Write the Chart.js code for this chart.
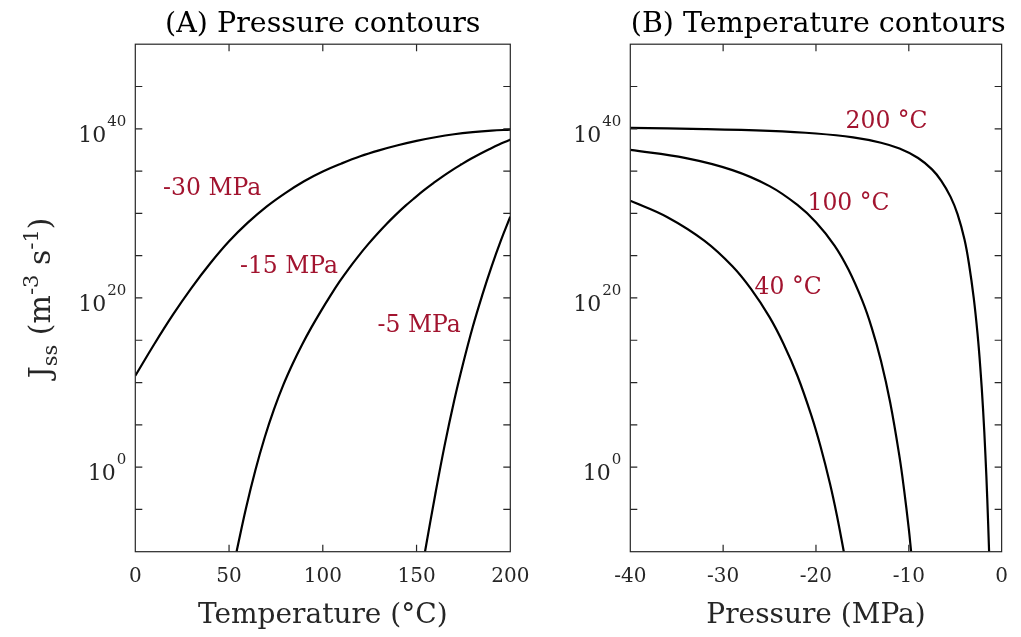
<!DOCTYPE html>
<html>
<head>
<meta charset="utf-8">
<script src="https://cdn.jsdelivr.net/npm/chart.js@4.4.0/dist/chart.umd.min.js"></script>
<style>
  body { margin: 0; background: #fff; width: 1021px; height: 637px; overflow: hidden; position: relative; }
  canvas { position: absolute; top: 0; }
  #panel-a { left: 0; }
  #panel-b { left: 560px; }
</style>
</head>
<body>
<canvas id="panel-a" width="560" height="637"></canvas>
<canvas id="panel-b" width="461" height="637"></canvas>
<script>
// ---- data (y values are log10 of Jss) ----
// (A) pressure contours, x = temperature in C
const tempM30 = [0, 10, 20, 30, 40, 50, 60, 70, 80, 90, 100, 110, 120, 130, 140, 150, 160, 170, 180, 190, 200];
const logJM30 = [10.8, 14.5, 18.0, 21.2, 24.1, 26.7, 28.9, 30.8, 32.4, 33.8, 34.95, 35.9, 36.75, 37.45, 38.05, 38.57, 39.0, 39.35, 39.6, 39.78, 39.9];

const tempM15 = [54, 59, 64, 69, 74, 79, 84, 89, 94, 99, 104, 109, 114, 119, 124, 129, 134, 139, 144, 149, 154, 159, 164, 169, 174, 179, 184, 189, 194, 199, 200];
const logJM15 = [-10, -4.9, -0.4, 3.5, 6.85, 9.75, 12.25, 14.5, 16.55, 18.45, 20.25, 21.95, 23.5, 24.95, 26.3, 27.56, 28.75, 29.85, 30.88, 31.83, 32.74, 33.58, 34.38, 35.12, 35.8, 36.45, 37.05, 37.61, 38.14, 38.62, 38.72];

const tempM5 = [154.5, 160, 165, 170, 175, 180, 185, 190, 195, 200];
const logJM5 = [-10, -3.2, 2.6, 7.8, 12.4, 16.6, 20.3, 23.7, 26.8, 29.6];

// (B) temperature contours, x = pressure in MPa
const presT200 = [-40, -32, -25, -20, -16, -13, -11, -9, -7.5, -6.5, -5.5, -4.75, -4, -3.5, -3, -2.6, -2.3, -2, -1.75, -1.55, -1.35];
const logJT200 = [40.1, 39.97, 39.75, 39.44, 38.98, 38.35, 37.66, 36.55, 35.2, 33.85, 31.95, 29.9, 26.9, 23.9, 19.95, 15.8, 11.8, 6.8, 1.5, -3.7, -10];

const presT100 = [-40, -34, -29, -25, -22, -20, -18, -16.5, -15, -14, -13, -12, -11, -10.5, -10, -9.75];
const logJT100 = [37.5, 36.53, 35.11, 33.22, 31.0, 28.95, 26.2, 23.36, 19.65, 16.5, 12.58, 7.61, 1.21, -2.75, -7.3, -10];

const presT40 = [-40, -36, -32, -29, -27, -25, -23.5, -22, -20.5, -19.5, -18.5, -17.75, -17];
const logJT40 = [31.5, 29.55, 26.75, 23.75, 21.07, 17.73, 14.59, 10.8, 6.11, 2.4, -1.92, -5.7, -10];

// axis ticks
const yMinorExp = [-5, 0, 5, 10, 15, 20, 25, 30, 35, 40, 45];
const yLabelExp = [0, 20, 40];
const xTicksA = [50, 100, 150];
const xTicksB = [-30, -20, -10];

// in-plot labels (x in axis units, y as log10)
const labelsA = [
  { text: '-30 MPa', x: 41, exp: 32.2 },
  { text: '-15 MPa', x: 82, exp: 22.9 },
  { text: '-5 MPa', x: 151.4, exp: 16.0 }
];
const labelsB = [
  { text: '200 °C', x: -12.4, exp: 40.1 },
  { text: '100 °C', x: -16.5, exp: 30.4 },
  { text: '40 °C', x: -23.0, exp: 20.5 }
];

const FONT = 'DejaVu Serif';
const AXIS_COLOR = '#262626';
const LABEL_COLOR = '#A2142F';
const TICK = 7;

// box, inward ticks, 10^n labels, curve labels, y title
const frameAndLabels = {
  id: 'frameAndLabels',
  afterDatasetsDraw(chart, args, opts) {
    const { ctx, chartArea: { left, right, top, bottom }, scales: { x, y } } = chart;
    ctx.save();
    ctx.strokeStyle = AXIS_COLOR;
    ctx.lineWidth = 1.2;
    ctx.beginPath();
    yMinorExp.forEach(e => {
      const py = y.getPixelForValue(Math.pow(10, e));
      ctx.moveTo(left, py); ctx.lineTo(left + TICK, py);
      ctx.moveTo(right, py); ctx.lineTo(right - TICK, py);
    });
    opts.xTicks.forEach(v => {
      const px = x.getPixelForValue(v);
      ctx.moveTo(px, bottom); ctx.lineTo(px, bottom - TICK);
      ctx.moveTo(px, top); ctx.lineTo(px, top + TICK);
    });
    ctx.stroke();
    ctx.strokeRect(left, top, right - left, bottom - top);

    // y tick labels as 10 with superscript
    ctx.fillStyle = AXIS_COLOR;
    ctx.textBaseline = 'alphabetic';
    ctx.textAlign = 'right';
    yLabelExp.forEach(e => {
      const py = y.getPixelForValue(Math.pow(10, e));
      const xEnd = left - 9;
      ctx.font = `15px "${FONT}"`;
      const sup = String(e);
      const supW = ctx.measureText(sup).width;
      ctx.fillText(sup, xEnd, py - 3);
      ctx.font = `22px "${FONT}"`;
      ctx.fillText('10', xEnd - supW - 1, py + 13);
    });

    // curve labels
    ctx.font = `23.5px "${FONT}"`;
    ctx.fillStyle = LABEL_COLOR;
    ctx.textAlign = 'center';
    opts.curveLabels.forEach(l => {
      ctx.fillText(l.text, x.getPixelForValue(l.x), y.getPixelForValue(Math.pow(10, l.exp)));
    });

    // rotated y title: J_ss (m^-3 s^-1)
    if (opts.yTitle) {
      const parts = [
        { t: 'J', size: 30, dy: 0 },
        { t: 'ss', size: 21, dy: 7 },
        { t: ' (m', size: 30, dy: 0 },
        { t: '-3', size: 21, dy: -12 },
        { t: ' s', size: 30, dy: 0 },
        { t: '-1', size: 21, dy: -12 },
        { t: ')', size: 30, dy: 0 }
      ];
      let total = 0;
      parts.forEach(p => { ctx.font = `${p.size}px "${FONT}"`; p.w = ctx.measureText(p.t).width; total += p.w; });
      ctx.translate(50, (top + bottom) / 2);
      ctx.rotate(-Math.PI / 2);
      ctx.fillStyle = AXIS_COLOR;
      ctx.textAlign = 'left';
      let cx = -total / 2;
      parts.forEach(p => {
        ctx.font = `${p.size}px "${FONT}"`;
        ctx.fillText(p.t, cx, p.dy);
        cx += p.w;
      });
    }
    ctx.restore();
  }
};

function toPoints(xs, exps) {
  return xs.map((v, i) => ({ x: v, y: Math.pow(10, exps[i]) }));
}

function makePanel(id, cfg) {
  return new Chart(document.getElementById(id), {
    type: 'line',
    data: {
      datasets: cfg.series.map(s => ({
        data: toPoints(s[0], s[1]),
        borderColor: '#000',
        borderWidth: 2.2,
        pointRadius: 0,
        tension: 0.4,
        fill: false
      }))
    },
    options: {
      responsive: false,
      animation: false,
      devicePixelRatio: 1,
      layout: { padding: { left: cfg.padLeft, right: cfg.padRight, top: 0, bottom: 0 } },
      plugins: {
        legend: { display: false },
        tooltip: { enabled: false },
        title: {
          display: true,
          text: cfg.title,
          color: '#000',
          font: { family: FONT, size: 28.5, weight: 'normal' },
          padding: { top: 7, bottom: 3 }
        },
        frameAndLabels: { xTicks: cfg.xTicks, curveLabels: cfg.labels, yTitle: cfg.yTitle }
      },
      scales: {
        x: {
          type: 'linear',
          min: cfg.xMin,
          max: cfg.xMax,
          grid: { display: false, drawTicks: false },
          border: { display: false },
          ticks: {
            stepSize: cfg.step,
            color: AXIS_COLOR,
            font: { family: FONT, size: 20 },
            padding: 13,
            maxRotation: 0,
            autoSkip: false
          },
          title: {
            display: true,
            text: cfg.xTitle,
            color: AXIS_COLOR,
            font: { family: FONT, size: 28 },
            padding: { top: 0, bottom: 4 }
          },
          afterFit(scale) { scale.height = 637 - 551.7; }
        },
        y: { type: 'logarithmic', display: false, min: 1e-10, max: 1e50 }
      }
    },
    plugins: [frameAndLabels]
  });
}

makePanel('panel-a', {
  title: '(A) Pressure contours',
  xTitle: 'Temperature (°C)',
  xMin: 0, xMax: 200, step: 50,
  xTicks: xTicksA,
  padLeft: 135.3, padRight: 560 - 510.3,
  series: [[tempM30, logJM30], [tempM15, logJM15], [tempM5, logJM5]],
  labels: labelsA,
  yTitle: true
});

makePanel('panel-b', {
  title: '(B) Temperature contours',
  xTitle: 'Pressure (MPa)',
  xMin: -40, xMax: 0, step: 10,
  xTicks: xTicksB,
  padLeft: 630.3 - 560, padRight: 461 - 446,
  series: [[presT200, logJT200], [presT100, logJT100], [presT40, logJT40]],
  labels: labelsB,
  yTitle: false
});
</script>
</body>
</html>
